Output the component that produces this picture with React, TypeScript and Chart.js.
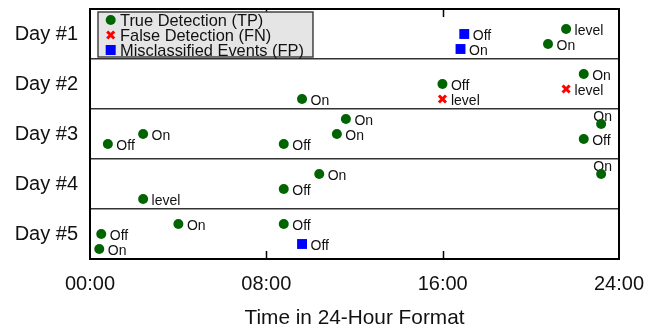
import React, { useEffect, useRef } from 'react';
import { Chart, registerables } from 'chart.js';

Chart.register(...registerables);

const FONT = '"Liberation Sans", Arial, sans-serif';

const dayLabels = ['Day #1', 'Day #2', 'Day #3', 'Day #4', 'Day #5'];
const xTickLabels = ['00:00', '08:00', '16:00', '24:00'];
const axisTitle = 'Time in 24-Hour Format';
const seriesNames = ['True Detection (TP)', 'False Detection (FN)', 'Misclassified Events (FP)'];

// True Detection (TP)
const tpDay = [1, 1, 2, 2, 2, 3, 3, 3, 3, 3, 3, 3, 4, 4, 4, 4, 5, 5, 5, 5];
const tpHour = [21.6, 20.78, 9.62, 15.99, 22.4, 0.81, 2.41, 8.79, 11.2, 11.61, 23.19, 22.4, 2.41, 8.79, 10.4, 23.19, 4.01, 8.79, 0.51, 0.42];
const tpOffset = [0.4, 0.7, 0.8, 0.5, 0.3, 0.7, 0.5, 0.7, 0.5, 0.2, 0.3, 0.6, 0.8, 0.6, 0.3, 0.3, 0.3, 0.3, 0.5, 0.8];
const tpEvent = ['level', 'On', 'On', 'Off', 'On', 'Off', 'On', 'Off', 'On', 'On', 'On', 'Off', 'level', 'Off', 'On', 'On', 'On', 'Off', 'Off', 'On'];

// False Detection (FN)
const fnDay = [2, 2];
const fnHour = [15.99, 21.6];
const fnOffset = [0.8, 0.6];
const fnEvent = ['level', 'level'];

// Misclassified Events (FP)
const fpDay = [1, 1, 5];
const fpHour = [16.98, 16.81, 9.62];
const fpOffset = [0.5, 0.8, 0.7];
const fpEvent = ['Off', 'On', 'Off'];

const TP_COLOR = '#006400';
const FN_COLOR = '#ff0000';
const FP_COLOR = '#0000ff';

function build(day: number[], hour: number[], off: number[], ev: string[]) {
  return day.map((d, i) => ({ x: hour[i], y: d - 1 + off[i], label: ev[i] }));
}

function drawMarker(ctx: CanvasRenderingContext2D, style: string, color: string, x: number, y: number) {
  ctx.save();
  if (style === 'circle') {
    ctx.fillStyle = color;
    ctx.beginPath();
    ctx.arc(x, y, 5, 0, Math.PI * 2);
    ctx.fill();
  } else if (style === 'crossRot') {
    ctx.strokeStyle = color;
    ctx.lineWidth = 3;
    const r = 3.5;
    ctx.beginPath();
    ctx.moveTo(x - r, y - r);
    ctx.lineTo(x + r, y + r);
    ctx.moveTo(x + r, y - r);
    ctx.lineTo(x - r, y + r);
    ctx.stroke();
  } else {
    ctx.fillStyle = color;
    ctx.fillRect(x - 5, y - 5, 10, 10);
  }
  ctx.restore();
}

const decorPlugin = {
  id: 'decor',
  beforeDatasetsDraw(chart: any) {
    const ctx = chart.ctx as CanvasRenderingContext2D;
    const area = chart.chartArea;
    ctx.save();
    ctx.font = `14px ${FONT}`;
    ctx.fillStyle = '#111';
    chart.data.datasets.forEach((ds: any, di: number) => {
      const meta = chart.getDatasetMeta(di);
      meta.data.forEach((el: any, i: number) => {
        const label = ds.data[i].label;
        const w = ctx.measureText(label).width;
        if (el.x + 8.5 + w > area.right) {
          ctx.textAlign = 'center';
          ctx.fillText(label, el.x + 1.5, el.y - 3);
        } else {
          ctx.textAlign = 'left';
          ctx.fillText(label, el.x + 8.5, el.y + 5.5);
        }
      });
    });
    ctx.restore();
  },
  afterDraw(chart: any) {
    const ctx = chart.ctx as CanvasRenderingContext2D;
    const area = chart.chartArea;
    const xs = chart.scales.x;
    ctx.save();
    // inward ticks
    ctx.strokeStyle = '#000';
    ctx.lineWidth = 1.5;
    xs.ticks.forEach((t: any, i: number) => {
      if (i === 0 || i === xs.ticks.length - 1) return;
      const px = Math.round(xs.getPixelForValue(t.value)) + 0.5;
      ctx.beginPath();
      ctx.moveTo(px, area.top);
      ctx.lineTo(px, area.top + 8);
      ctx.moveTo(px, area.bottom);
      ctx.lineTo(px, area.bottom - 8);
      ctx.stroke();
    });
    // frame
    ctx.lineWidth = 2;
    ctx.strokeRect(area.left, area.top, area.right - area.left, area.bottom - area.top);

    // legend
    const boxX = area.left + 8;
    const boxY = area.top + 3;
    const textX = boxX + 22;
    ctx.font = `16.4px ${FONT}`;
    let maxW = 0;
    chart.data.datasets.forEach((ds: any) => {
      maxW = Math.max(maxW, ctx.measureText(ds.label).width);
    });
    const boxW = textX + maxW + 9 - boxX;
    const boxH = 45;
    ctx.fillStyle = '#e5e5e5';
    ctx.fillRect(boxX, boxY, boxW, boxH);
    ctx.strokeStyle = '#444';
    ctx.lineWidth = 1.5;
    ctx.strokeRect(boxX, boxY, boxW, boxH);
    chart.data.datasets.forEach((ds: any, i: number) => {
      const cy = boxY + 8 + i * 15;
      const color = ds.pointStyle === 'crossRot' ? ds.borderColor : ds.backgroundColor;
      drawMarker(ctx, ds.pointStyle, color, boxX + 12.7, cy);
      ctx.fillStyle = '#111';
      ctx.textAlign = 'left';
      ctx.fillText(ds.label, textX, cy + 5.7);
    });
    ctx.restore();
  },
};

export default function App() {
  const ref = useRef<HTMLCanvasElement | null>(null);
  useEffect(() => {
    document.body.style.margin = '0';
    if (!ref.current) return;
    const chart = new Chart(ref.current, {
      type: 'scatter',
      data: {
        datasets: [
          {
            label: seriesNames[0],
            data: build(tpDay, tpHour, tpOffset, tpEvent),
            pointStyle: 'circle',
            pointRadius: 5,
            backgroundColor: TP_COLOR,
            borderColor: TP_COLOR,
            borderWidth: 0,
          },
          {
            label: seriesNames[1],
            data: build(fnDay, fnHour, fnOffset, fnEvent),
            pointStyle: 'crossRot',
            pointRadius: 5,
            backgroundColor: FN_COLOR,
            borderColor: FN_COLOR,
            borderWidth: 3,
          },
          {
            label: seriesNames[2],
            data: build(fpDay, fpHour, fpOffset, fpEvent),
            pointStyle: 'rect',
            pointRadius: 7,
            backgroundColor: FP_COLOR,
            borderColor: FP_COLOR,
            borderWidth: 0,
          },
        ] as any,
      },
      options: {
        responsive: false,
        animation: false,
        events: [],
        layout: { padding: { top: 9, right: 38, left: 0, bottom: 0 } },
        plugins: { legend: { display: false }, tooltip: { enabled: false } },
        scales: {
          x: {
            type: 'linear',
            min: 0,
            max: 24,
            afterFit: (s: any) => {
              s.height = 70;
              s.paddingLeft = 0;
              s.paddingRight = 0;
            },
            ticks: {
              stepSize: 8,
              autoSkip: false,
              maxRotation: 0,
              padding: 13.5,
              color: '#111',
              font: { family: FONT, size: 20 },
              callback: (_v: any, i: number) => xTickLabels[i],
            },
            grid: { display: false, drawTicks: false },
            border: { display: false },
            title: {
              display: true,
              text: axisTitle,
              color: '#111',
              font: { family: FONT, size: 20.8 },
              padding: { top: 0, bottom: -1.5 },
            },
          },
          y: {
            type: 'linear',
            min: 0,
            max: 5,
            reverse: true,
            afterFit: (s: any) => {
              s.width = 90;
              s.paddingTop = 0;
              s.paddingBottom = 0;
            },
            ticks: {
              stepSize: 0.5,
              autoSkip: false,
              padding: 12,
              color: '#111',
              font: { family: FONT, size: 20 },
              callback: (v: any) => {
                const n = Number(v);
                const frac = n - Math.floor(n);
                return Math.abs(frac - 0.5) < 1e-6 ? dayLabels[Math.floor(n)] : '';
              },
            },
            grid: {
              drawTicks: false,
              lineWidth: 1.5,
              color: (c: any) => {
                const v = c.tick ? c.tick.value : 0;
                return v > 0 && v < 5 && Math.abs(v - Math.round(v)) < 1e-6 ? '#333' : 'rgba(0,0,0,0)';
              },
            },
            border: { display: false },
          },
        },
      },
      plugins: [decorPlugin],
    } as any);
    return () => chart.destroy();
  }, []);
  return (
    <div style={{ position: 'fixed', left: 0, top: 0, width: 657, height: 329 }}>
      <canvas ref={ref} width={657} height={329} />
    </div>
  );
}
